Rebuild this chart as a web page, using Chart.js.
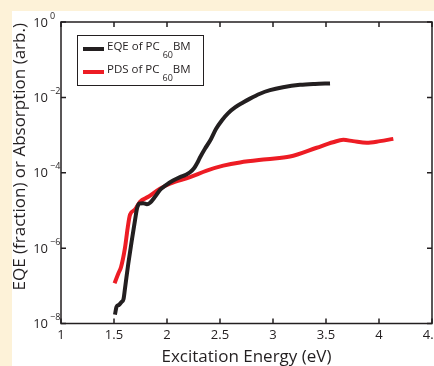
<!DOCTYPE html>
<html>
<head>
<meta charset="utf-8">
<script src="https://cdn.jsdelivr.net/npm/chart.js@4.4.1/dist/chart.umd.min.js"></script>
<style>
	html, body { margin: 0; padding: 0; overflow: hidden; }
	body { width: 434px; height: 366px; background: #fdf2d8; position: relative; }
	#panel { position: absolute; left: 12px; top: 11px; right: 0; bottom: 0; background: #fff; }
	#chart { position: absolute; left: 0; top: 0; }
</style>
</head>
<body>
<div id="panel"></div>
<canvas id="chart" width="434" height="366"></canvas>
<script>
// values (energy in eV, EQE / absorption on a log axis)
var eqeEnergy = [1.509, 1.524, 1.547, 1.571, 1.590, 1.604, 1.635, 1.667, 1.698, 1.717, 1.736, 1.774, 1.811, 1.840,
	1.887, 1.934, 1.991, 2.057, 2.123, 2.179, 2.217, 2.255, 2.283, 2.311, 2.358, 2.406, 2.462, 2.519, 2.575,
	2.642, 2.717, 2.783, 2.877, 2.972, 3.094, 3.255, 3.396, 3.538];
var eqeValues = [1.72e-8, 2.77e-8, 3.13e-8, 3.74e-8, 4.48e-8, 8.67e-8, 3.89e-7, 1.55e-6, 5.45e-6, 1.12e-5, 1.51e-5,
	1.56e-5, 1.47e-5, 1.60e-5, 2.30e-5, 3.50e-5, 4.72e-5, 6.19e-5, 7.64e-5, 8.87e-5, 1.03e-4, 1.31e-4, 1.77e-4,
	2.54e-4, 4.35e-4, 7.03e-4, 1.45e-3, 2.48e-3, 3.78e-3, 5.41e-3, 7.29e-3, 9.27e-3, 1.25e-2, 1.55e-2, 1.85e-2,
	2.15e-2, 2.28e-2, 2.35e-2];

var pdsEnergy = [1.505, 1.541, 1.566, 1.604, 1.629, 1.651, 1.698, 1.745, 1.824, 1.934, 2.028, 2.217, 2.375, 2.531,
	2.689, 2.940, 3.160, 3.412, 3.566, 3.663, 3.755, 3.884, 4.009, 4.135];
var pdsValues = [1.17e-7, 2.13e-7, 3.11e-7, 1.03e-6, 3.43e-6, 7.67e-6, 1.05e-5, 1.70e-5, 2.30e-5, 3.78e-5, 5.11e-5,
	7.64e-5, 1.14e-4, 1.54e-4, 1.88e-4, 2.29e-4, 2.69e-4, 4.61e-4, 6.43e-4, 7.46e-4, 6.90e-4, 6.24e-4, 6.90e-4, 7.93e-4];

var xTicks = [1, 1.5, 2, 2.5, 3, 3.5, 4, 4.5];
var yExponents = [0, -2, -4, -6, -8];

var seriesNames = ['EQE of PC', 'PDS of PC'];
var seriesSub = '60';
var seriesTail = 'BM';
var xTitle = 'Excitation Energy (eV)';
var yTitle = 'EQE (fraction) or Absorption (arb.)';

var ink = '#231f20';
var seriesColors = ['#231f20', '#ed1c24'];
var fontFamily = '"Open Sans", "DejaVu Sans", sans-serif';

function toPoints(xs, ys) {
	return xs.map(function(x, i) {
		return { x: x, y: ys[i] };
	});
}

// box, inward ticks, y labels with exponents, y title and legend, drawn like matlab does
var matlabFrame = {
	id: 'matlabFrame',
	afterDraw: function(chart) {
		var ctx = chart.ctx;
		var a = chart.chartArea;
		var xs = chart.scales.x;
		var ys = chart.scales.y;

		ctx.save();
		ctx.strokeStyle = ink;
		ctx.fillStyle = ink;
		ctx.lineWidth = 1.5;
		ctx.strokeRect(a.left, a.top, a.right - a.left, a.bottom - a.top);

		ctx.beginPath();
		xTicks.forEach(function(v) {
			var px = xs.getPixelForValue(v);
			ctx.moveTo(px, a.bottom); ctx.lineTo(px, a.bottom - 5);
			ctx.moveTo(px, a.top); ctx.lineTo(px, a.top + 5);
		});
		yExponents.forEach(function(e) {
			var py = ys.getPixelForValue(Math.pow(10, e));
			ctx.moveTo(a.left, py); ctx.lineTo(a.left + 5, py);
			ctx.moveTo(a.right, py); ctx.lineTo(a.right - 5, py);
		});
		ctx.stroke();

		ctx.textBaseline = 'middle';
		yExponents.forEach(function(e) {
			var py = ys.getPixelForValue(Math.pow(10, e));
			ctx.font = '13px ' + fontFamily;
			ctx.textAlign = 'right';
			ctx.fillText('10', a.left - 13, py + 1);
			ctx.font = '9px ' + fontFamily;
			ctx.textAlign = 'left';
			ctx.fillText(e < 0 ? '\u2212' + Math.abs(e) : String(e), a.left - 11, py - 6);
		});

		ctx.save();
		ctx.translate(20, (a.top + a.bottom) / 2 - 16);
		ctx.rotate(-Math.PI / 2);
		ctx.textAlign = 'center';
		ctx.font = '17px ' + fontFamily;
		ctx.fillText(yTitle, 0, 0);
		ctx.restore();

		// legend
		var lx = a.left + 16, ly = a.top + 13;
		ctx.fillStyle = '#fff';
		ctx.fillRect(lx, ly, 126, 50);
		ctx.lineWidth = 1;
		ctx.strokeStyle = ink;
		ctx.strokeRect(lx + 0.5, ly + 0.5, 126, 50);
		seriesNames.forEach(function(name, i) {
			var rowY = ly + 14 + i * 23;
			ctx.strokeStyle = seriesColors[i];
			ctx.lineWidth = 4;
			ctx.beginPath();
			ctx.moveTo(lx + 6, rowY);
			ctx.lineTo(lx + 27, rowY);
			ctx.stroke();

			ctx.fillStyle = ink;
			ctx.textAlign = 'left';
			ctx.font = '11.5px ' + fontFamily;
			var tx = lx + 30;
			ctx.fillText(name, tx, rowY - 2);
			tx += ctx.measureText(name).width + 3;
			ctx.font = '9px ' + fontFamily;
			ctx.fillText(seriesSub, tx, rowY + 6);
			tx += ctx.measureText(seriesSub).width;
			ctx.font = '11.5px ' + fontFamily;
			ctx.fillText(seriesTail, tx, rowY - 2);
		});
		ctx.restore();
	}
};

var chart = new Chart(document.getElementById('chart'), {
	type: 'line',
	data: {
		datasets: [{
			label: seriesNames[0] + seriesSub + seriesTail,
			data: toPoints(eqeEnergy, eqeValues),
			borderColor: seriesColors[0],
			borderWidth: 4,
			pointRadius: 0,
			cubicInterpolationMode: 'monotone'
		}, {
			label: seriesNames[1] + seriesSub + seriesTail,
			data: toPoints(pdsEnergy, pdsValues),
			borderColor: seriesColors[1],
			borderWidth: 4,
			pointRadius: 0,
			cubicInterpolationMode: 'monotone'
		}]
	},
	options: {
		responsive: false,
		animation: false,
		devicePixelRatio: 1,
		layout: { padding: { left: 61, top: 22, right: 2, bottom: 0 } },
		plugins: { legend: { display: false }, tooltip: { enabled: false } },
		scales: {
			x: {
				type: 'linear',
				min: 1,
				max: 4.5,
				afterBuildTicks: function(scale) {
					scale.ticks = xTicks.map(function(v) { return { value: v }; });
				},
				afterFit: function(scale) {
					scale.paddingLeft = 0;
					scale.paddingRight = 0;
				},
				grid: { display: false, drawTicks: false },
				border: { display: false },
				ticks: {
					color: ink,
					padding: 5.5,
					maxRotation: 0,
					autoSkip: false,
					font: { family: fontFamily, size: 13, lineHeight: 1 },
					callback: function(value) {
						return String(value);
					}
				},
				title: {
					display: true,
					text: xTitle,
					color: ink,
					padding: { top: 1.5, bottom: 0 },
					font: { family: fontFamily, size: 17, lineHeight: 1 }
				}
			},
			y: {
				type: 'logarithmic',
				min: 1e-8,
				max: 1,
				afterBuildTicks: function(scale) {
					scale.ticks = yExponents.map(function(e) { return { value: Math.pow(10, e) }; });
				},
				grid: { display: false, drawTicks: false },
				border: { display: false },
				ticks: { display: false }
			}
		}
	},
	plugins: [matlabFrame]
});
</script>
</body>
</html>
